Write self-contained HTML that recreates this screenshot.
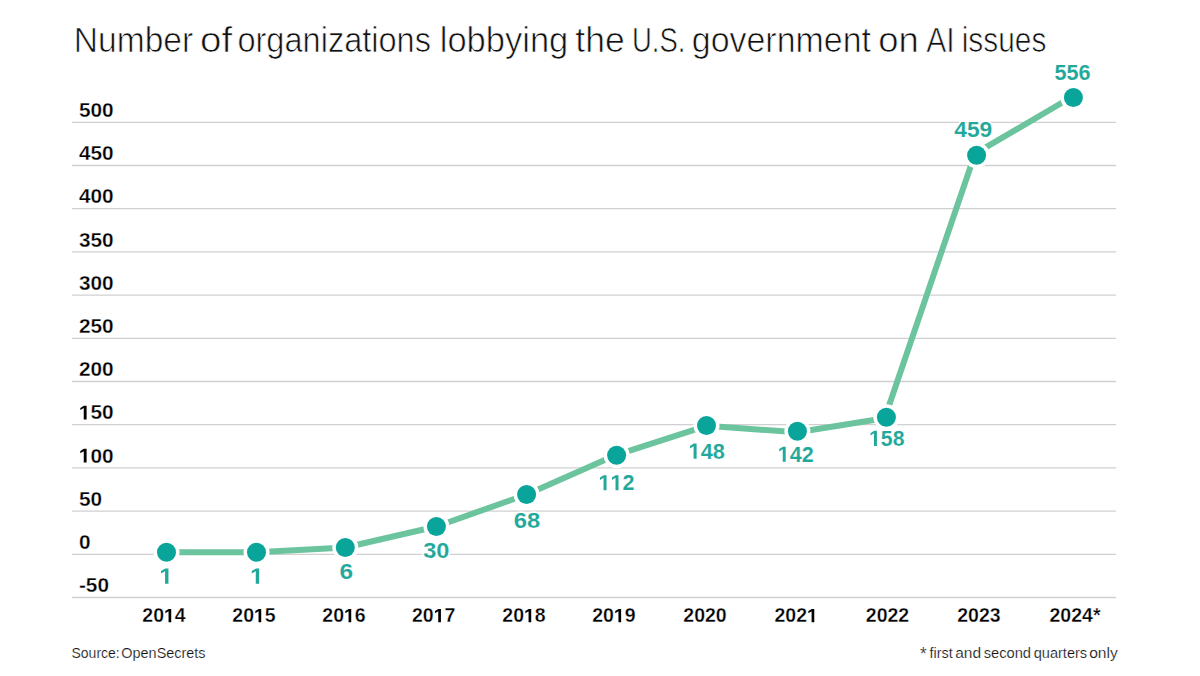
<!DOCTYPE html>
<html><head><meta charset="utf-8"><title>AI lobbying chart</title><style>
html,body{margin:0;padding:0;background:#fff;width:1200px;height:676px;overflow:hidden}
svg{display:block}
text{font-family:"Liberation Sans",sans-serif}
.h1{fill:none;stroke:none}
.yl{font-size:20px;font-weight:bold;fill:#000;stroke:#fff;stroke-width:0.3px}
.ylp{fill:#000}
.yr{font-size:19.5px;font-weight:bold;fill:#000;stroke:#fff;stroke-width:0.3px}
.yrp{fill:#000}
.vl{font-size:22px;font-weight:bold;fill:#22a89a;stroke:#fff;stroke-width:0.1px}
.vh{fill:#fff;stroke-width:3px;stroke-linejoin:round}
.vlp{fill:#22a89a}
.vhp{fill:#fff;stroke:#fff;stroke-width:279px;stroke-linejoin:round}
.title{font-size:35px;fill:#111;stroke:#fff;stroke-width:0.7px}
.src{font-size:15.3px;fill:#111;stroke:#fff;stroke-width:0.2px}
.foot{font-size:15.3px;fill:#111;stroke:#fff;stroke-width:0.2px}
.ast{font-size:19px}
</style></head><body>
<svg width="1200" height="676" viewBox="0 0 1200 676">
<rect width="1200" height="676" fill="#fff"/>
<line x1="72" y1="122.30" x2="1116" y2="122.30" stroke="#d0d0d0" stroke-width="1.3"/>
<line x1="72" y1="165.50" x2="1116" y2="165.50" stroke="#d0d0d0" stroke-width="1.3"/>
<line x1="72" y1="208.70" x2="1116" y2="208.70" stroke="#d0d0d0" stroke-width="1.3"/>
<line x1="72" y1="251.90" x2="1116" y2="251.90" stroke="#d0d0d0" stroke-width="1.3"/>
<line x1="72" y1="295.10" x2="1116" y2="295.10" stroke="#d0d0d0" stroke-width="1.3"/>
<line x1="72" y1="338.30" x2="1116" y2="338.30" stroke="#d0d0d0" stroke-width="1.3"/>
<line x1="72" y1="381.50" x2="1116" y2="381.50" stroke="#d0d0d0" stroke-width="1.3"/>
<line x1="72" y1="424.70" x2="1116" y2="424.70" stroke="#d0d0d0" stroke-width="1.3"/>
<line x1="72" y1="467.90" x2="1116" y2="467.90" stroke="#d0d0d0" stroke-width="1.3"/>
<line x1="72" y1="511.10" x2="1116" y2="511.10" stroke="#d0d0d0" stroke-width="1.3"/>
<line x1="72" y1="554.30" x2="1116" y2="554.30" stroke="#d0d0d0" stroke-width="1.3"/>
<line x1="72" y1="597.50" x2="1116" y2="597.50" stroke="#d0d0d0" stroke-width="1.3"/>
<g transform="translate(78.9 117.00) scale(1.04 1)"><text class="yl">500</text></g>
<g transform="translate(78.9 160.20) scale(1.04 1)"><text class="yl">450</text></g>
<g transform="translate(78.9 203.40) scale(1.04 1)"><text class="yl">400</text></g>
<g transform="translate(78.9 246.60) scale(1.04 1)"><text class="yl">350</text></g>
<g transform="translate(78.9 289.80) scale(1.04 1)"><text class="yl">300</text></g>
<g transform="translate(78.9 333.00) scale(1.04 1)"><text class="yl">250</text></g>
<g transform="translate(78.9 376.20) scale(1.04 1)"><text class="yl">200</text></g>
<g transform="translate(78.9 419.40) scale(1.04 1)"><text class="yl"><tspan class="h1">1</tspan>50</text><path class="ylp" d="M478 0L478 1170L140 959L140 1180L493 1409L759 1409L759 0Z" transform="translate(0.000 0) scale(0.009766 -0.009766)"/></g>
<g transform="translate(78.9 462.60) scale(1.04 1)"><text class="yl"><tspan class="h1">1</tspan>00</text><path class="ylp" d="M478 0L478 1170L140 959L140 1180L493 1409L759 1409L759 0Z" transform="translate(0.000 0) scale(0.009766 -0.009766)"/></g>
<g transform="translate(78.9 505.80) scale(1.04 1)"><text class="yl">50</text></g>
<g transform="translate(78.9 549.00) scale(1.04 1)"><text class="yl">0</text></g>
<g transform="translate(78.9 592.20) scale(1.04 1)"><text class="yl">-50</text></g>
<polyline points="166.50,552.30 256.50,552.30 345.30,547.50 436.40,526.50 526.60,494.50 616.60,454.80 706.50,425.80 797.40,432.30 884.70,418.20 975.00,153.70 1073.40,96.00" fill="none" stroke="#6cc49e" stroke-width="6" stroke-linejoin="round"/>
<circle cx="166.5" cy="552.3" r="13" fill="#fff"/>
<circle cx="166.5" cy="552.3" r="9.5" fill="#09a59b"/>
<circle cx="256.5" cy="552.3" r="13" fill="#fff"/>
<circle cx="256.5" cy="552.3" r="9.5" fill="#09a59b"/>
<circle cx="345.3" cy="547.5" r="13" fill="#fff"/>
<circle cx="345.3" cy="547.5" r="9.5" fill="#09a59b"/>
<circle cx="436.4" cy="526.5" r="13" fill="#fff"/>
<circle cx="436.4" cy="526.5" r="9.5" fill="#09a59b"/>
<circle cx="526.6" cy="494.5" r="13" fill="#fff"/>
<circle cx="526.6" cy="494.5" r="9.5" fill="#09a59b"/>
<circle cx="616.6" cy="455.3" r="13" fill="#fff"/>
<circle cx="616.6" cy="455.3" r="9.5" fill="#09a59b"/>
<circle cx="706.5" cy="425.5" r="13" fill="#fff"/>
<circle cx="706.5" cy="425.5" r="9.5" fill="#09a59b"/>
<circle cx="797.4" cy="431.3" r="13" fill="#fff"/>
<circle cx="797.4" cy="431.3" r="9.5" fill="#09a59b"/>
<circle cx="886.4" cy="417.2" r="13" fill="#fff"/>
<circle cx="886.4" cy="417.2" r="9.5" fill="#09a59b"/>
<circle cx="976.6" cy="155.2" r="13" fill="#fff"/>
<circle cx="976.6" cy="155.2" r="9.5" fill="#09a59b"/>
<circle cx="1073.4" cy="97.5" r="13" fill="#fff"/>
<circle cx="1073.4" cy="97.5" r="9.5" fill="#09a59b"/>
<g transform="translate(159.32 583.7) scale(1.120 1)"><text class="vl vh"><tspan class="h1">1</tspan></text><path class="vhp" d="M478 0L478 1170L140 959L140 1180L493 1409L759 1409L759 0Z" transform="translate(0.000 0) scale(0.010742 -0.010742)"/></g>
<g transform="translate(250.02 583.7) scale(1.120 1)"><text class="vl vh"><tspan class="h1">1</tspan></text><path class="vhp" d="M478 0L478 1170L140 959L140 1180L493 1409L759 1409L759 0Z" transform="translate(0.000 0) scale(0.010742 -0.010742)"/></g>
<g transform="translate(339.50 579) scale(1.114 1)"><text class="vl vh">6</text></g>
<g transform="translate(423.16 558) scale(1.074 1)"><text class="vl vh">30</text></g>
<g transform="translate(513.83 527.7) scale(1.084 1)"><text class="vl vh">68</text></g>
<g transform="translate(598.53 490.3) scale(0.979 1)"><text class="vl vh"><tspan class="h1">1</tspan><tspan class="h1">1</tspan>2</text><path class="vhp" d="M478 0L478 1170L140 959L140 1180L493 1409L759 1409L759 0Z" transform="translate(0.000 0) scale(0.010742 -0.010742)"/><path class="vhp" d="M478 0L478 1170L140 959L140 1180L493 1409L759 1409L759 0Z" transform="translate(12.235 0) scale(0.010742 -0.010742)"/></g>
<g transform="translate(688.51 458.7) scale(0.991 1)"><text class="vl vh"><tspan class="h1">1</tspan>48</text><path class="vhp" d="M478 0L478 1170L140 959L140 1180L493 1409L759 1409L759 0Z" transform="translate(0.000 0) scale(0.010742 -0.010742)"/></g>
<g transform="translate(777.73 461.8) scale(0.979 1)"><text class="vl vh"><tspan class="h1">1</tspan>42</text><path class="vhp" d="M478 0L478 1170L140 959L140 1180L493 1409L759 1409L759 0Z" transform="translate(0.000 0) scale(0.010742 -0.010742)"/></g>
<g transform="translate(869.05 445.9) scale(0.965 1)"><text class="vl vh"><tspan class="h1">1</tspan>58</text><path class="vhp" d="M478 0L478 1170L140 959L140 1180L493 1409L759 1409L759 0Z" transform="translate(0.000 0) scale(0.010742 -0.010742)"/></g>
<g transform="translate(954.25 137.1) scale(1.037 1)"><text class="vl vh">459</text></g>
<g transform="translate(1054.44 79.8) scale(0.981 1)"><text class="vl vh">556</text></g>
<g transform="translate(159.32 583.7) scale(1.120 1)"><text class="vl"><tspan class="h1">1</tspan></text><path class="vlp" d="M478 0L478 1170L140 959L140 1180L493 1409L759 1409L759 0Z" transform="translate(0.000 0) scale(0.010742 -0.010742)"/></g>
<g transform="translate(250.02 583.7) scale(1.120 1)"><text class="vl"><tspan class="h1">1</tspan></text><path class="vlp" d="M478 0L478 1170L140 959L140 1180L493 1409L759 1409L759 0Z" transform="translate(0.000 0) scale(0.010742 -0.010742)"/></g>
<g transform="translate(339.50 579) scale(1.114 1)"><text class="vl">6</text></g>
<g transform="translate(423.16 558) scale(1.074 1)"><text class="vl">30</text></g>
<g transform="translate(513.83 527.7) scale(1.084 1)"><text class="vl">68</text></g>
<g transform="translate(598.53 490.3) scale(0.979 1)"><text class="vl"><tspan class="h1">1</tspan><tspan class="h1">1</tspan>2</text><path class="vlp" d="M478 0L478 1170L140 959L140 1180L493 1409L759 1409L759 0Z" transform="translate(0.000 0) scale(0.010742 -0.010742)"/><path class="vlp" d="M478 0L478 1170L140 959L140 1180L493 1409L759 1409L759 0Z" transform="translate(12.235 0) scale(0.010742 -0.010742)"/></g>
<g transform="translate(688.51 458.7) scale(0.991 1)"><text class="vl"><tspan class="h1">1</tspan>48</text><path class="vlp" d="M478 0L478 1170L140 959L140 1180L493 1409L759 1409L759 0Z" transform="translate(0.000 0) scale(0.010742 -0.010742)"/></g>
<g transform="translate(777.73 461.8) scale(0.979 1)"><text class="vl"><tspan class="h1">1</tspan>42</text><path class="vlp" d="M478 0L478 1170L140 959L140 1180L493 1409L759 1409L759 0Z" transform="translate(0.000 0) scale(0.010742 -0.010742)"/></g>
<g transform="translate(869.05 445.9) scale(0.965 1)"><text class="vl"><tspan class="h1">1</tspan>58</text><path class="vlp" d="M478 0L478 1170L140 959L140 1180L493 1409L759 1409L759 0Z" transform="translate(0.000 0) scale(0.010742 -0.010742)"/></g>
<g transform="translate(954.25 137.1) scale(1.037 1)"><text class="vl">459</text></g>
<g transform="translate(1054.44 79.8) scale(0.981 1)"><text class="vl">556</text></g>
<g transform="translate(142.31 622.3)"><text class="yr">20<tspan class="h1">1</tspan>4</text><path class="yrp" d="M478 0L478 1170L140 959L140 1180L493 1409L759 1409L759 0Z" transform="translate(21.690 0) scale(0.009521 -0.009521)"/></g>
<g transform="translate(232.31 622.3)"><text class="yr">20<tspan class="h1">1</tspan>5</text><path class="yrp" d="M478 0L478 1170L140 959L140 1180L493 1409L759 1409L759 0Z" transform="translate(21.690 0) scale(0.009521 -0.009521)"/></g>
<g transform="translate(322.31 622.3)"><text class="yr">20<tspan class="h1">1</tspan>6</text><path class="yrp" d="M478 0L478 1170L140 959L140 1180L493 1409L759 1409L759 0Z" transform="translate(21.690 0) scale(0.009521 -0.009521)"/></g>
<g transform="translate(412.01 622.3)"><text class="yr">20<tspan class="h1">1</tspan>7</text><path class="yrp" d="M478 0L478 1170L140 959L140 1180L493 1409L759 1409L759 0Z" transform="translate(21.690 0) scale(0.009521 -0.009521)"/></g>
<g transform="translate(502.31 622.3)"><text class="yr">20<tspan class="h1">1</tspan>8</text><path class="yrp" d="M478 0L478 1170L140 959L140 1180L493 1409L759 1409L759 0Z" transform="translate(21.690 0) scale(0.009521 -0.009521)"/></g>
<g transform="translate(592.21 622.3)"><text class="yr">20<tspan class="h1">1</tspan>9</text><path class="yrp" d="M478 0L478 1170L140 959L140 1180L493 1409L759 1409L759 0Z" transform="translate(21.690 0) scale(0.009521 -0.009521)"/></g>
<g transform="translate(683.31 622.3)"><text class="yr">2020</text></g>
<g transform="translate(774.51 622.3)"><text class="yr">202<tspan class="h1">1</tspan></text><path class="yrp" d="M478 0L478 1170L140 959L140 1180L493 1409L759 1409L759 0Z" transform="translate(32.535 0) scale(0.009521 -0.009521)"/></g>
<g transform="translate(865.81 622.3)"><text class="yr">2022</text></g>
<g transform="translate(957.21 622.3)"><text class="yr">2023</text></g>
<g transform="translate(1049.52 622.3)"><text class="yr">2024*</text></g>
<text transform="translate(73.82 52) scale(0.959 1)" class="title">Number</text>
<text transform="translate(200.10 52) scale(1.100 1)" class="title">of</text>
<text transform="translate(237.44 52) scale(0.930 1)" class="title">organizations</text>
<text transform="translate(439.74 52) scale(0.986 1)" class="title">lobbying</text>
<text transform="translate(575.28 52) scale(1.015 1)" class="title">the</text>
<text transform="translate(631.94 52) scale(0.785 1)" class="title">U.S.</text>
<text transform="translate(691.76 52) scale(0.970 1)" class="title">government</text>
<text transform="translate(878.22 52) scale(1.041 1)" class="title">on</text>
<text transform="translate(926.14 52) scale(0.862 1)" class="title">AI</text>
<text transform="translate(961.74 52) scale(0.853 1)" class="title">issues</text>
<text transform="translate(71.48 658) scale(0.916 1)" class="src">Source:</text>
<text transform="translate(121.36 658) scale(0.943 1)" class="src">OpenSecrets</text>
<text transform="translate(929.60 658) scale(0.938 1)" class="foot">first</text>
<text transform="translate(955.23 658) scale(1.015 1)" class="foot">and</text>
<text transform="translate(983.64 658) scale(0.960 1)" class="foot">second</text>
<text transform="translate(1033.75 658) scale(0.952 1)" class="foot">quarters</text>
<text transform="translate(1089.18 658) scale(1.022 1)" class="foot">only</text>
<text transform="translate(920 659.8) scale(0.9 1)" class="foot ast">*</text>
</svg>
</body></html>
